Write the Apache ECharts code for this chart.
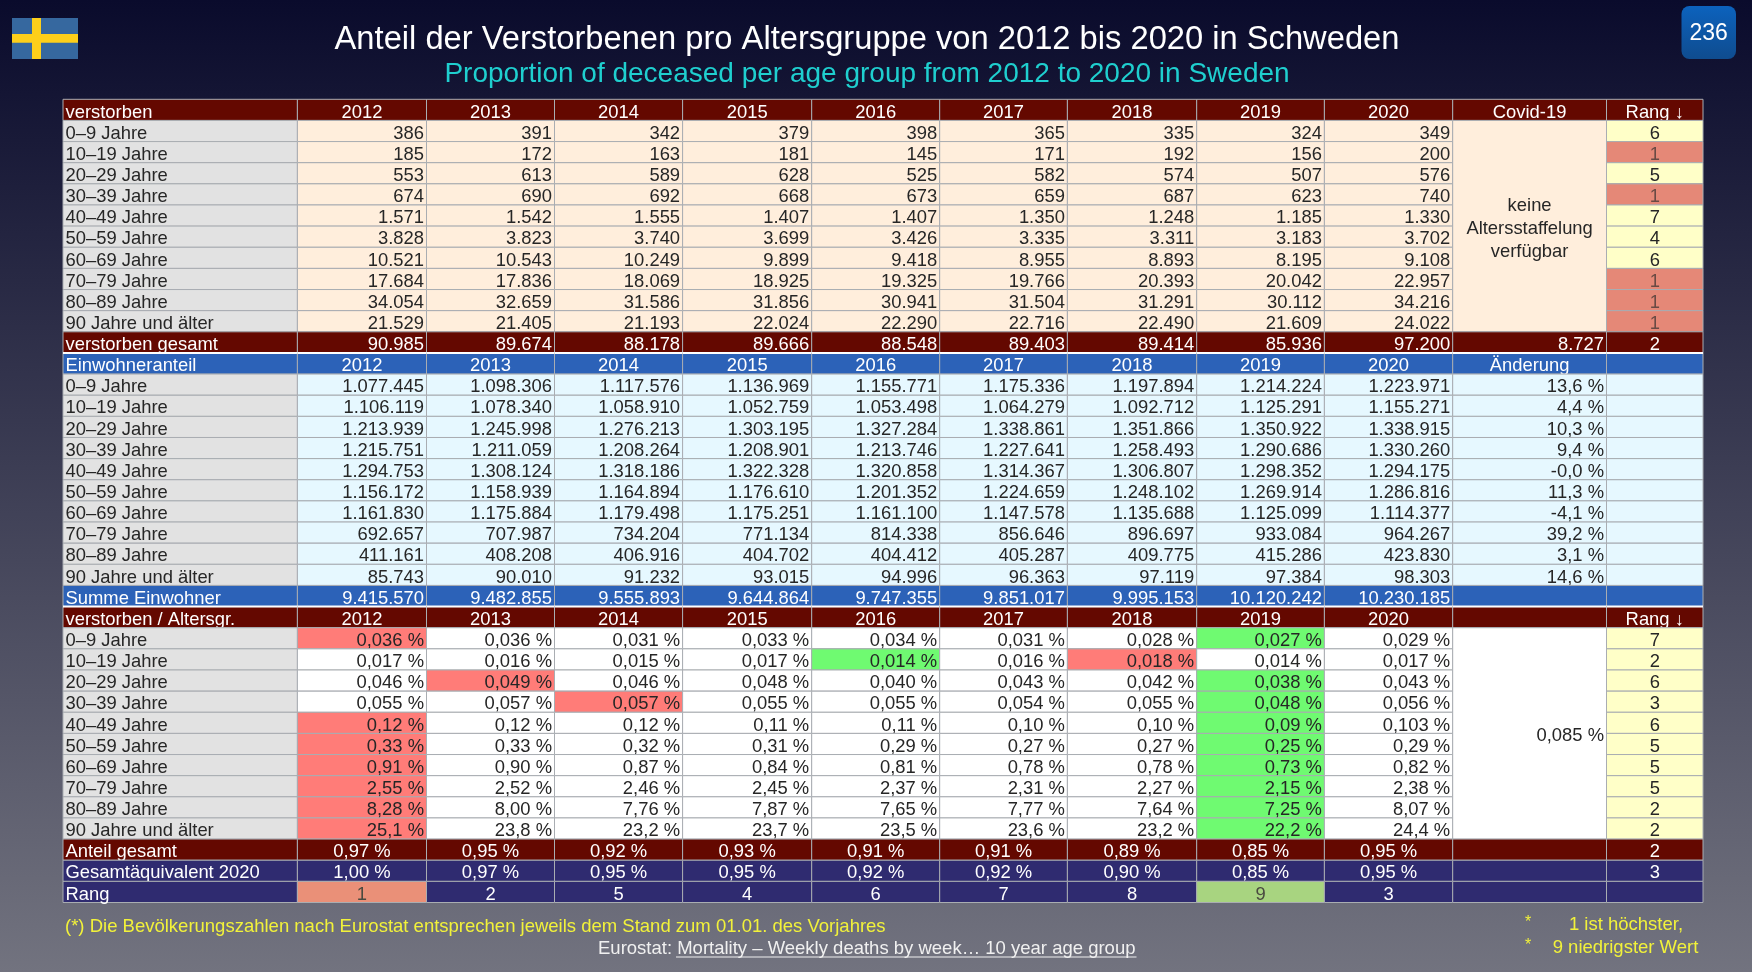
<!DOCTYPE html>
<html>
<head>
<meta charset="utf-8">
<title>Anteil der Verstorbenen pro Altersgruppe</title>
<style>
	html, body { margin: 0; padding: 0; background: #3a3b58; }
	#chart { width: 1752px; height: 972px; }
</style>
<script src="https://cdn.jsdelivr.net/npm/echarts@6/dist/echarts.min.js"></script>
</head>
<body>
<div id="chart"></div>
<script>
// werte
var years = ['2012', '2013', '2014', '2015', '2016', '2017', '2018', '2019', '2020'];
var ageGroups = ['0–9 Jahre', '10–19 Jahre', '20–29 Jahre', '30–39 Jahre', '40–49 Jahre', '50–59 Jahre', '60–69 Jahre', '70–79 Jahre', '80–89 Jahre', '90 Jahre und älter'];

var deaths = [
	[386, 391, 342, 379, 398, 365, 335, 324, 349],
	[185, 172, 163, 181, 145, 171, 192, 156, 200],
	[553, 613, 589, 628, 525, 582, 574, 507, 576],
	[674, 690, 692, 668, 673, 659, 687, 623, 740],
	[1571, 1542, 1555, 1407, 1407, 1350, 1248, 1185, 1330],
	[3828, 3823, 3740, 3699, 3426, 3335, 3311, 3183, 3702],
	[10521, 10543, 10249, 9899, 9418, 8955, 8893, 8195, 9108],
	[17684, 17836, 18069, 18925, 19325, 19766, 20393, 20042, 22957],
	[34054, 32659, 31586, 31856, 30941, 31504, 31291, 30112, 34216],
	[21529, 21405, 21193, 22024, 22290, 22716, 22490, 21609, 24022]
];
var deathsTotal = [90985, 89674, 88178, 89666, 88548, 89403, 89414, 85936, 97200];
var covidDeaths = 8727;
var deathsRank = [6, 1, 5, 1, 7, 4, 6, 1, 1, 1];
var deathsTotalRank = 2;

var population = [
	[1077445, 1098306, 1117576, 1136969, 1155771, 1175336, 1197894, 1214224, 1223971],
	[1106119, 1078340, 1058910, 1052759, 1053498, 1064279, 1092712, 1125291, 1155271],
	[1213939, 1245998, 1276213, 1303195, 1327284, 1338861, 1351866, 1350922, 1338915],
	[1215751, 1211059, 1208264, 1208901, 1213746, 1227641, 1258493, 1290686, 1330260],
	[1294753, 1308124, 1318186, 1322328, 1320858, 1314367, 1306807, 1298352, 1294175],
	[1156172, 1158939, 1164894, 1176610, 1201352, 1224659, 1248102, 1269914, 1286816],
	[1161830, 1175884, 1179498, 1175251, 1161100, 1147578, 1135688, 1125099, 1114377],
	[692657, 707987, 734204, 771134, 814338, 856646, 896697, 933084, 964267],
	[411161, 408208, 406916, 404702, 404412, 405287, 409775, 415286, 423830],
	[85743, 90010, 91232, 93015, 94996, 96363, 97119, 97384, 98303]
];
var populationTotal = [9415570, 9482855, 9555893, 9644864, 9747355, 9851017, 9995153, 10120242, 10230185];
var populationChange = ['13,6 %', '4,4 %', '10,3 %', '9,4 %', '-0,0 %', '11,3 %', '-4,1 %', '39,2 %', '3,1 %', '14,6 %'];

var shares = [
	['0,036 %', '0,036 %', '0,031 %', '0,033 %', '0,034 %', '0,031 %', '0,028 %', '0,027 %', '0,029 %'],
	['0,017 %', '0,016 %', '0,015 %', '0,017 %', '0,014 %', '0,016 %', '0,018 %', '0,014 %', '0,017 %'],
	['0,046 %', '0,049 %', '0,046 %', '0,048 %', '0,040 %', '0,043 %', '0,042 %', '0,038 %', '0,043 %'],
	['0,055 %', '0,057 %', '0,057 %', '0,055 %', '0,055 %', '0,054 %', '0,055 %', '0,048 %', '0,056 %'],
	['0,12 %', '0,12 %', '0,12 %', '0,11 %', '0,11 %', '0,10 %', '0,10 %', '0,09 %', '0,103 %'],
	['0,33 %', '0,33 %', '0,32 %', '0,31 %', '0,29 %', '0,27 %', '0,27 %', '0,25 %', '0,29 %'],
	['0,91 %', '0,90 %', '0,87 %', '0,84 %', '0,81 %', '0,78 %', '0,78 %', '0,73 %', '0,82 %'],
	['2,55 %', '2,52 %', '2,46 %', '2,45 %', '2,37 %', '2,31 %', '2,27 %', '2,15 %', '2,38 %'],
	['8,28 %', '8,00 %', '7,76 %', '7,87 %', '7,65 %', '7,77 %', '7,64 %', '7,25 %', '8,07 %'],
	['25,1 %', '23,8 %', '23,2 %', '23,7 %', '23,5 %', '23,6 %', '23,2 %', '22,2 %', '24,4 %']
];
var sharesHighYear = [0, 6, 1, 2, 0, 0, 0, 0, 0, 0];
var sharesLowYear = [7, 4, 7, 7, 7, 7, 7, 7, 7, 7];
var covidShare = '0,085 %';
var sharesRank = [7, 2, 6, 3, 6, 5, 5, 5, 2, 2];
var shareTotal = ['0,97 %', '0,95 %', '0,92 %', '0,93 %', '0,91 %', '0,91 %', '0,89 %', '0,85 %', '0,95 %'];
var shareEquivalent = ['1,00 %', '0,97 %', '0,95 %', '0,95 %', '0,92 %', '0,92 %', '0,90 %', '0,85 %', '0,95 %'];
var shareTotalRank = 2;
var shareEquivalentRank = 3;
var yearRank = [1, 2, 5, 4, 6, 7, 8, 9, 3];

// spaltenkanten in pixeln ab tabellenrand
var colEdges = [0, 234.4, 363.5, 491.5, 619.6, 748.7, 876.7, 1004.4, 1133.7, 1261.4, 1389.7, 1543.5, 1640];
var COL_LABEL = 0, COL_YEAR = 1, COL_EXTRA = 10, COL_RANK = 11;
var FONT = '"Liberation Sans", Arial, sans-serif';

var C = {
	red: '#640800', blue: '#2c62b8', navy: '#2f2b70', label: '#e2e2e2', cream: '#ffeedc',
	ice: '#e6f8ff', white: '#ffffff', rankYellow: '#ffffc8', rankRed: '#e58877',
	high: '#ff7c78', low: '#6ffa71', first: '#ea9078', last: '#a8d480',
	dark: '#262626', line: '#a9adb2'
};

var fmt = function (n) {
	return String(n).replace(/\B(?=(\d{3})+$)/g, '.');
};

var rowNames = [], cells = [];
var addCell = function (row, col0, col1, text, align, fill, color, span) {
	cells.push({row : row, col0 : col0, col1 : col1, text : text, align : align, fill : fill, color : color, span : span || 1});
};
var addRow = function (row, label, vals, labelFill, labelColor, align, fill, color) {
	rowNames[row] = label;
	addCell(row, COL_LABEL, COL_YEAR, label, 'left', labelFill, labelColor);
	for (var i = 0; i < years.length; i++) {
		addCell(row, COL_YEAR + i, COL_YEAR + i + 1, vals[i], align, fill, color);
	}
};
var addHeader = function (row, label, fill, extra, rank) {
	addRow(row, label, years, fill, C.white, 'center', fill, C.white);
	addCell(row, COL_EXTRA, COL_RANK, extra, 'center', fill, C.white);
	addCell(row, COL_RANK, COL_RANK + 1, rank, 'center', fill, C.white);
};

// block 1: verstorben
addHeader(0, 'verstorben', C.red, 'Covid-19', 'Rang ↓');
ageGroups.forEach(function (age, i) {
	addRow(i + 1, age, deaths[i].map(fmt), C.label, C.dark, 'right', C.cream, C.dark);
	addCell(i + 1, COL_RANK, COL_RANK + 1, String(deathsRank[i]), 'center',
		deathsRank[i] === 1 ? C.rankRed : C.rankYellow, deathsRank[i] === 1 ? '#6a4a44' : C.dark);
});
addCell(1, COL_EXTRA, COL_RANK, 'keine\nAltersstaffelung\nverfügbar', 'center', C.cream, C.dark, 10);
addRow(11, 'verstorben gesamt', deathsTotal.map(fmt), C.red, C.white, 'right', C.red, C.white);
addCell(11, COL_EXTRA, COL_RANK, fmt(covidDeaths), 'right', C.red, C.white);
addCell(11, COL_RANK, COL_RANK + 1, String(deathsTotalRank), 'center', C.red, C.white);

// block 2: einwohner
addHeader(12, 'Einwohneranteil', C.blue, 'Änderung', '');
ageGroups.forEach(function (age, i) {
	addRow(i + 13, age, population[i].map(fmt), C.label, C.dark, 'right', C.ice, C.dark);
	addCell(i + 13, COL_EXTRA, COL_RANK, populationChange[i], 'right', C.ice, C.dark);
	addCell(i + 13, COL_RANK, COL_RANK + 1, '', 'center', C.ice, C.dark);
});
addRow(23, 'Summe Einwohner', populationTotal.map(fmt), C.blue, C.white, 'right', C.blue, C.white);
addCell(23, COL_EXTRA, COL_RANK, '', 'right', C.blue, C.white);
addCell(23, COL_RANK, COL_RANK + 1, '', 'center', C.blue, C.white);

// block 3: anteile
addHeader(24, 'verstorben / Altersgr.', C.red, '', 'Rang ↓');
ageGroups.forEach(function (age, i) {
	var row = i + 25;
	rowNames[row] = age;
	addCell(row, COL_LABEL, COL_YEAR, age, 'left', C.label, C.dark);
	shares[i].forEach(function (v, y) {
		var fill = y === sharesHighYear[i] ? C.high : (y === sharesLowYear[i] ? C.low : C.white);
		addCell(row, COL_YEAR + y, COL_YEAR + y + 1, v, 'right', fill, C.dark);
	});
	addCell(row, COL_RANK, COL_RANK + 1, String(sharesRank[i]), 'center', C.rankYellow, C.dark);
});
addCell(25, COL_EXTRA, COL_RANK, covidShare, 'right', C.white, C.dark, 10);
addRow(35, 'Anteil gesamt', shareTotal, C.red, C.white, 'center', C.red, C.white);
addCell(35, COL_EXTRA, COL_RANK, '', 'center', C.red, C.white);
addCell(35, COL_RANK, COL_RANK + 1, String(shareTotalRank), 'center', C.red, C.white);
addRow(36, 'Gesamtäquivalent 2020', shareEquivalent, C.navy, C.white, 'center', C.navy, C.white);
addCell(36, COL_EXTRA, COL_RANK, '', 'center', C.navy, C.white);
addCell(36, COL_RANK, COL_RANK + 1, String(shareEquivalentRank), 'center', C.navy, C.white);
rowNames[37] = 'Rang';
addCell(37, COL_LABEL, COL_YEAR, 'Rang', 'left', C.navy, C.white);
yearRank.forEach(function (r, y) {
	var fill = r === 1 ? C.first : (r === 9 ? C.last : C.navy);
	addCell(37, COL_YEAR + y, COL_YEAR + y + 1, String(r), 'center', fill, fill === C.navy ? C.white : '#4a4a40');
});
addCell(37, COL_EXTRA, COL_RANK, '', 'center', C.navy, C.white);
addCell(37, COL_RANK, COL_RANK + 1, '', 'center', C.navy, C.white);

var renderCell = function (params, api) {
	var cell = cells[params.dataIndex],
		topLeft = api.coord([colEdges[cell.col0], cell.row]),
		right = api.coord([colEdges[cell.col1], cell.row])[0],
		band = api.size([0, 1])[1],
		top = topLeft[1] - band / 2,
		height = band * cell.span,
		left = topLeft[0],
		textX = cell.align === 'left' ? left + 2.5 : (cell.align === 'right' ? right - 2.5 : (left + right) / 2);
	var children = [{
		type : 'rect',
		shape : {x : left, y : top, width : right - left, height : height},
		style : {fill : cell.fill, stroke : C.line, lineWidth : 1}
	}];
	// weisse trennlinie vor jedem neuen block
	if (cell.row === 12 || cell.row === 24) {
		children.push({
			type : 'line',
			shape : {x1 : left, y1 : top, x2 : right, y2 : top},
			style : {stroke : '#ffffff', lineWidth : 2}
		});
	}
	if (cell.text) {
		children.push({
			type : 'text',
			style : {
				x : textX,
				y : top + height / 2 + 2.6,
				text : cell.text,
				fill : cell.color,
				font : '18.4px ' + FONT,
				lineHeight : 23,
				align : cell.align,
				verticalAlign : 'middle'
			}
		});
	}
	return {type : 'group', children : children};
};

var flagBlue = '#36689f', flagYellow = '#fdcf1a';
var note = function (x, y, text, align, fill, size) {
	return {
		type : 'text',
		style : {x : x, y : y, text : text, fill : fill, font : (size || 18.5) + 'px ' + FONT, align : align, verticalAlign : 'middle'}
	};
};

var chart = echarts.init(document.getElementById('chart'));
chart.setOption({
	animation : false,
	backgroundColor : {
		type : 'linear', x : 0, y : 0, x2 : 0, y2 : 1,
		colorStops : [
			{offset : 0, color : '#0a0b2c'},
			{offset : 1, color : '#72737f'}
		]
	},
	title : [
		{
			text : 'Anteil der Verstorbenen pro Altersgruppe von 2012 bis 2020 in Schweden',
			left : 862, top : 18, textAlign : 'center',
			textStyle : {color : '#ffffff', fontFamily : FONT, fontWeight : 'normal', fontSize : 32.7}
		},
		{
			text : 'Proportion of deceased per age group from 2012 to 2020 in Sweden',
			left : 862, top : 55, textAlign : 'center',
			textStyle : {color : '#1fcfcf', fontFamily : FONT, fontWeight : 'normal', fontSize : 28}
		}
	],
	grid : {left : 63, top : 99.3, width : 1640, height : 803.2, containLabel : false},
	xAxis : {type : 'value', min : 0, max : colEdges[colEdges.length - 1], show : false},
	yAxis : {type : 'category', inverse : true, data : rowNames, show : false},
	series : [{
		type : 'custom',
		renderItem : renderCell,
		encode : {x : 0, y : 1},
		data : cells.map(function (c) {
			return [colEdges[c.col0], c.row];
		}),
		silent : true
	}],
	graphic : [
		{type : 'rect', shape : {x : 12, y : 18, width : 66, height : 41}, style : {fill : flagBlue}},
		{type : 'rect', shape : {x : 32, y : 18, width : 9, height : 41}, style : {fill : flagYellow}},
		{type : 'rect', shape : {x : 12, y : 34, width : 66, height : 8.7}, style : {fill : flagYellow}},
		{
			type : 'rect',
			shape : {x : 1681.5, y : 6, width : 54.5, height : 53, r : 8},
			style : {
				fill : {
					type : 'linear', x : 0, y : 0, x2 : 0, y2 : 1,
					colorStops : [{offset : 0, color : '#0c62bd'}, {offset : 1, color : '#0f4c8f'}]
				}
			}
		},
		note(1708.7, 34, '236', 'center', '#ffffff', 23),
		note(65, 927, '(*) Die Bevölkerungszahlen nach Eurostat entsprechen jeweils dem Stand zum 01.01. des Vorjahres', 'left', '#f2f23a'),
		note(598, 949, 'Eurostat: Mortality – Weekly deaths by week… 10 year age group', 'left', '#f0f0f0'),
		{type : 'line', shape : {x1 : 676, y1 : 957, x2 : 1136.5, y2 : 957}, style : {stroke : '#f0f0f0', lineWidth : 1}},
		note(1528, 923, '*', 'center', '#f2f23a', 16),
		note(1528, 946, '*', 'center', '#f2f23a', 16),
		note(1626, 925, '1 ist höchster,', 'center', '#f2f23a'),
		note(1625.5, 948, '9 niedrigster Wert', 'center', '#f2f23a')
	]
});
</script>
</body>
</html>
